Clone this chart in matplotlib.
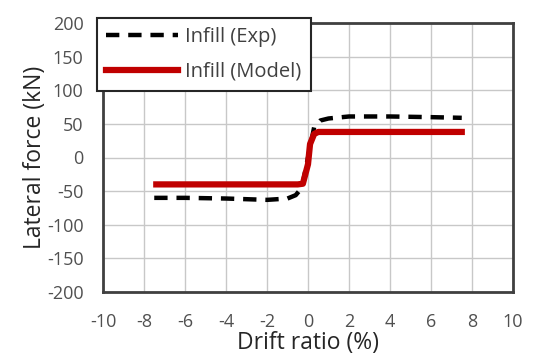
import matplotlib
matplotlib.use('Agg')
import matplotlib.pyplot as plt

# infill response
exp_drift = [-7.5, -6, -4, -2, -1, -0.6, -0.3, 0, 0.3, 0.6, 1, 2, 4, 6, 7.5]
exp_force = [-60, -60, -61, -63, -61, -56, -45, 0, 45, 55, 58, 61, 61, 60, 59]
mod_drift = [-7.4, -4, -2, -0.5, -0.25, 0, 0.1, 0.3, 0.5, 2, 4, 6, 7.5]
mod_force = [-40, -40, -40, -40, -39, -10, 20, 35, 38, 38, 38, 38, 38]

xticks = list(range(-10, 11, 2))
yticks = list(range(-200, 201, 50))

plt.rcParams['font.family'] = ['Open Sans', 'DejaVu Sans']
plt.rcParams['axes.unicode_minus'] = False

fig = plt.figure(figsize=(5.36, 3.59), dpi=100)
ax = fig.add_axes([103 / 536, 1 - 292 / 359, 410 / 536, 269 / 359])

ax.plot(exp_drift, exp_force, color='black', linestyle=(0, (3, 2)),
        linewidth=3.2, label='Infill (Exp)')
ax.plot(mod_drift, mod_force, color='#c00000', linewidth=4.5,
        label='Infill (Model)')

ax.set_xlim(-10, 10)
ax.set_ylim(-200, 200)
ax.set_xticks(xticks)
ax.set_yticks(yticks)
ax.grid(True, color='#c8c8c8', linewidth=1)
ax.tick_params(length=0, labelsize=13, colors='#505050')
ax.tick_params(axis='y', pad=14)
ax.tick_params(axis='x', pad=15)
for sp in ax.spines.values():
    sp.set_color('#404040')
    sp.set_linewidth(2)

ax.set_xlabel('Drift ratio (%)', fontsize=16.5, color='#262626', labelpad=0)
ax.set_ylabel('Lateral force (kN)', fontsize=16.5, color='#262626', labelpad=0)

leg = ax.legend(loc='upper left', bbox_to_anchor=(-0.015, 1.02), fontsize=14.5,
                frameon=True, fancybox=False, handlelength=3.6,
                borderaxespad=0, labelspacing=0.75, handletextpad=0.35,
                borderpad=0.45)
leg.get_frame().set_edgecolor('#262626')
leg.get_frame().set_linewidth(1.5)
leg.get_frame().set_alpha(1)
for t in leg.get_texts():
    t.set_color('#404040')

plt.savefig('out.png', dpi=100)
